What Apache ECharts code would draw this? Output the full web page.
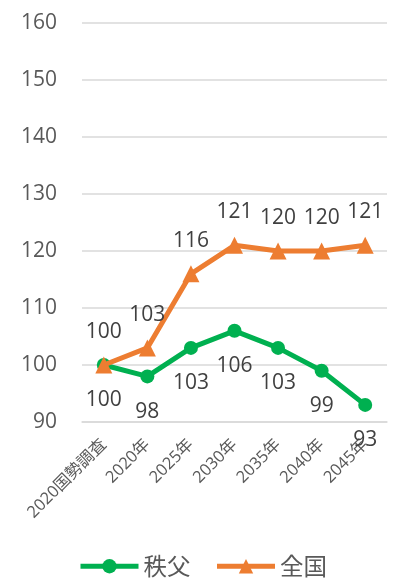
<!DOCTYPE html>
<html>
<head>
<meta charset="utf-8">
<script src="https://cdn.jsdelivr.net/npm/echarts@6/dist/echarts.min.js"></script>
<style>
  html, body { margin: 0; padding: 0; background: #fff; }
  #chart { width: 405px; height: 582px; }
</style>
</head>
<body>
<div id="chart"></div>
<script>
// Population index (2020 census = 100)
const categories = ['2020国勢調査', '2020年', '2025年', '2030年', '2035年', '2040年', '2045年'];
const chichibu = [100, 98, 103, 106, 103, 99, 93];
const national = [100, 103, 116, 121, 120, 120, 121];
const yTicks = { min: 90, max: 160, interval: 10 };

const FONT = '"Open Sans", "Noto Sans CJK JP", sans-serif';
const CJK = '"Noto Sans CJK JP", "Noto Sans", sans-serif';
const chart = echarts.init(document.getElementById('chart'));

chart.setOption({
  animation: false,
  textStyle: { fontFamily: FONT },
  grid: { left: 82, right: 18, top: 23, bottom: 160 },
  xAxis: {
    type: 'category',
    data: categories,
    boundaryGap: true,
    axisLine: { lineStyle: { color: '#d9d9d9', width: 1.5 } },
    axisTick: { show: false },
    axisLabel: {
      rotate: 45,
      color: '#595959',
      fontSize: 16.5,
      margin: 20,
      interval: 0,
      fontFamily: FONT
    }
  },
  yAxis: {
    type: 'value',
    min: yTicks.min,
    max: yTicks.max,
    interval: yTicks.interval,
    axisLine: { show: false },
    axisTick: { show: false },
    splitLine: { lineStyle: { color: '#d9d9d9', width: 1.5 } },
    axisLabel: { color: '#595959', fontSize: 21, margin: 25, fontFamily: FONT }
  },
  legend: {
    bottom: -1,
    left: 'center',
    itemWidth: 58,
    itemHeight: 18,
    itemGap: 24,
    lineStyle: { width: 5 },
    textStyle: { color: '#595959', fontSize: 23.5, fontFamily: CJK },
    data: ['秩父', '全国']
  },
  series: [
    {
      name: '秩父',
      type: 'line',
      data: chichibu,
      symbol: 'circle',
      symbolSize: 14,
      lineStyle: { color: '#00b050', width: 5 },
      itemStyle: { color: '#00b050' },
      label: {
        show: true,
        position: 'bottom',
        distance: 18,
        color: '#404040',
        fontSize: 21,
        fontFamily: FONT
      },
      z: 2
    },
    {
      name: '全国',
      type: 'line',
      data: national,
      symbol: 'triangle',
      symbolSize: 17,
      lineStyle: { color: '#ed7d31', width: 5 },
      itemStyle: { color: '#ed7d31' },
      label: {
        show: true,
        position: 'top',
        distance: 14,
        color: '#404040',
        fontSize: 21,
        fontFamily: FONT
      },
      z: 3
    }
  ]
});
</script>
</body>
</html>
